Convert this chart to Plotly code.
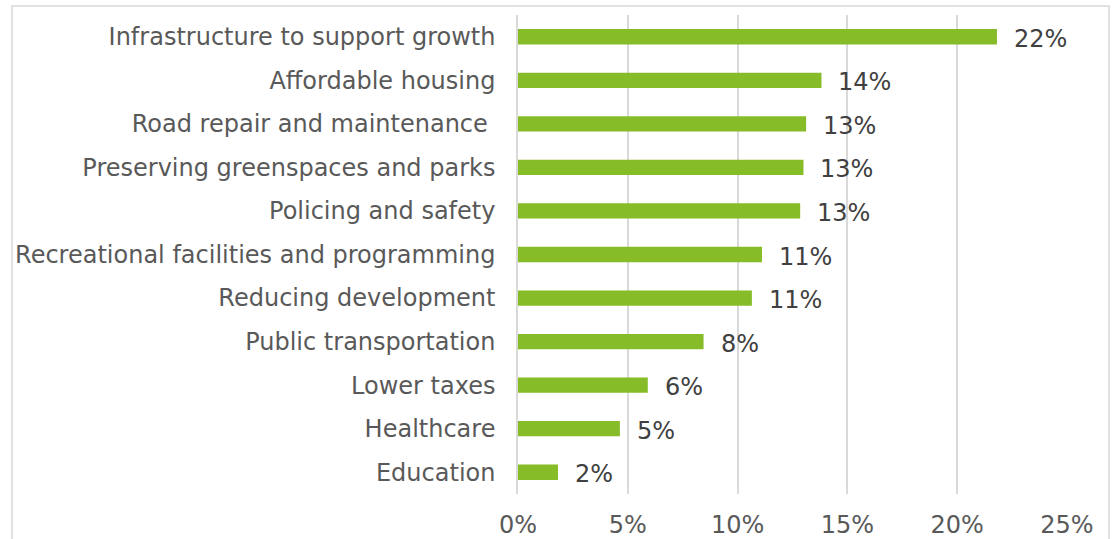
import plotly.graph_objects as go

# Share of respondents naming each priority
categories = [
    "Infrastructure to support growth",
    "Affordable housing",
    "Road repair and maintenance\u00a0",
    "Preserving greenspaces and parks",
    "Policing and safety",
    "Recreational facilities and programming",
    "Reducing development",
    "Public transportation",
    "Lower taxes",
    "Healthcare",
    "Education",
]
shares = [0.2181, 0.1382, 0.1312, 0.1300, 0.1285, 0.1111, 0.1065, 0.0845, 0.0591, 0.0464, 0.0182]

x_ticks = [0, 0.05, 0.10, 0.15, 0.20, 0.25]
x_tick_labels = ["0%", "5%", "10%", "15%", "20%", "25%"]

BAR_GREEN = "#86BC27"
AXIS_TEXT = "#595959"
VALUE_TEXT = "#404040"
GRID = "#d9d9d9"
FONT = "DejaVu Sans, Verdana, sans-serif"

W, H = 1118, 539
ML, MR, MT, MB = 518, 51, 15, 45

fig = go.Figure(
    go.Bar(
        x=shares,
        y=categories,
        orientation="h",
        marker=dict(color=BAR_GREEN, line=dict(width=0)),
        hoverinfo="x+y",
    )
)

# value labels to the right of each bar
for cat, v in zip(categories, shares):
    fig.add_annotation(
        x=v, y=cat, xref="x", yref="y",
        text=f"{v:.0%}",
        showarrow=False,
        xanchor="left", yanchor="middle",
        xshift=15, yshift=-2,
        font=dict(family=FONT, size=24, color=VALUE_TEXT),
    )

# light frame around the chart area
plot_w = W - ML - MR
plot_h = H - MT - MB
fig.add_shape(
    type="rect", xref="paper", yref="paper",
    x0=(12 - ML) / plot_w, x1=(1109 - ML) / plot_w,
    y0=-(560 - (H - MB)) / plot_h, y1=1 + (MT - 6) / plot_h,
    line=dict(color=GRID, width=1.5),
    fillcolor="rgba(0,0,0,0)",
    layer="below",
)

fig.update_layout(
    width=W, height=H,
    margin=dict(l=ML, r=MR, t=MT, b=MB, pad=0, autoexpand=False),
    paper_bgcolor="white",
    plot_bgcolor="white",
    bargap=0.648,
    showlegend=False,
    font=dict(family=FONT, size=24, color=AXIS_TEXT),
    xaxis=dict(
        range=[0, 0.25],
        tickvals=x_ticks,
        ticktext=x_tick_labels,
        showgrid=True,
        gridcolor=GRID,
        gridwidth=1.5,
        zeroline=False,
        showline=False,
        ticks="",
        automargin=False,
        ticklabelstandoff=14,
        tickfont=dict(family=FONT, size=24, color=AXIS_TEXT),
    ),
    yaxis=dict(
        autorange="reversed",
        showgrid=False,
        zeroline=False,
        showline=True,
        linecolor=GRID,
        linewidth=1.5,
        ticks="",
        automargin=False,
        ticklabelstandoff=16,
        tickfont=dict(family=FONT, size=24, color=AXIS_TEXT),
    ),
)

fig.write_html("out.html")
